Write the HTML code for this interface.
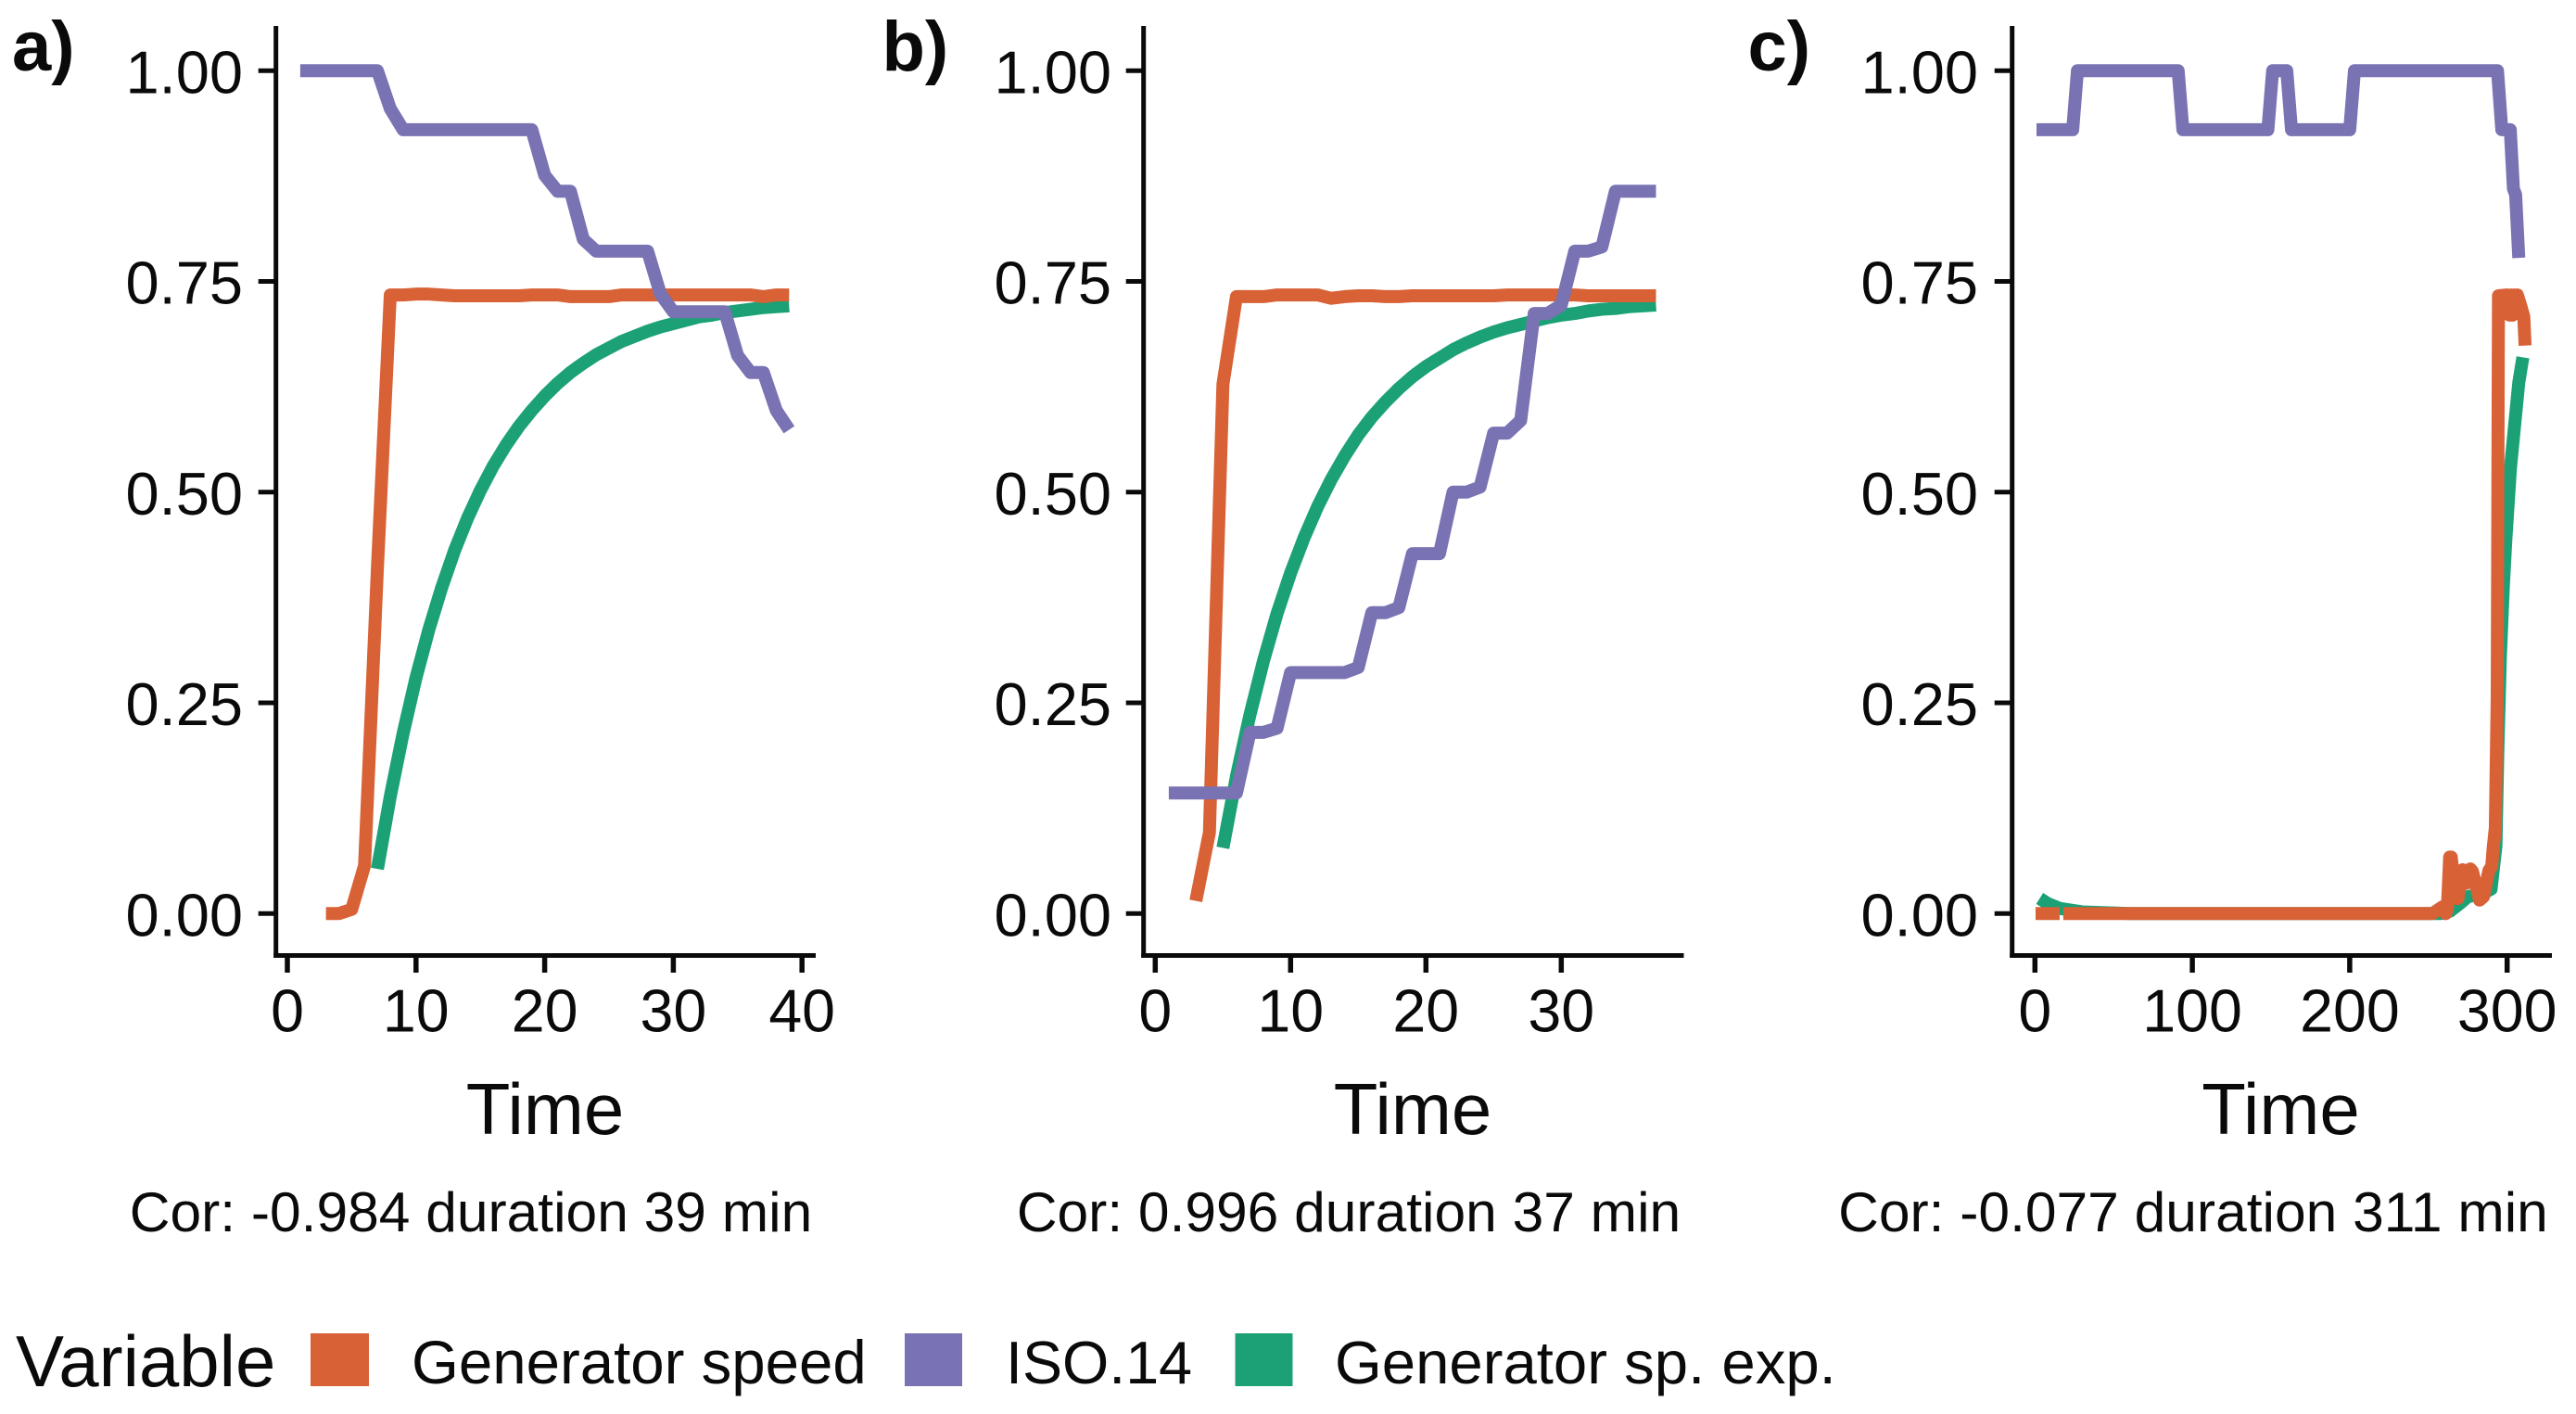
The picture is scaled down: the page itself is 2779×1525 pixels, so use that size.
<!DOCTYPE html>
<html lang="en">
<head>
<meta charset="utf-8">
<title>Generator speed and ISO.14 time series</title>
<style>
html,body{margin:0;padding:0;background:#fff;width:2779px;height:1525px;overflow:hidden}
svg{display:block;font-family:"Liberation Sans",Arial,sans-serif}
text{fill:#0a0a0a}
</style>
</head>
<body>
<svg id="chart" xmlns="http://www.w3.org/2000/svg" width="2779" height="1525" viewBox="0 0 2779 1525">
  <rect width="2779" height="1525" fill="#ffffff"/>
  <g>
    <text x="17" y="1495" font-size="78">Variable</text>
    <rect x="335" y="1438" width="63" height="57" fill="#d86136"/>
    <text x="444" y="1492" font-size="65.4">Generator speed</text>
    <rect x="976" y="1438" width="62" height="57" fill="#7973b3"/>
    <text x="1085" y="1492" font-size="64.6">ISO.14</text>
    <rect x="1332.5" y="1438" width="62" height="57" fill="#1ca177"/>
    <text x="1440" y="1492" font-size="65.3">Generator sp. exp.</text>
  </g>
</svg>
<script>
// Shared tick labels
var yTicks = [0, 0.25, 0.5, 0.75, 1];
var xTicksA = [0, 10, 20, 30, 40];
var xTicksB = [0, 10, 20, 30];
var xTicksC = [0, 100, 200, 300];

// Panel a
var speedTimeA = [3,4,5,6,7,8,9,10,11,12,13,14,15,16,17,18,19,20,21,22,23,24,25,26,27,28,29,30,31,32,33,34,35,36,37,38,39];
var speedValueA = [0,0,0.005,0.057,0.41,0.734,0.734,0.735,0.735,0.734,0.733,0.733,0.733,0.733,0.733,0.733,0.734,0.734,0.734,0.732,0.732,0.732,0.732,0.734,0.734,0.734,0.734,0.734,0.734,0.734,0.734,0.734,0.734,0.734,0.732,0.734,0.734];
var isoTimeA = [1,7,8,9,19,20,21,22,23,24,28,29,30,34,35,36,37,38,39];
var isoValueA = [1,1,0.955,0.93,0.93,0.876,0.857,0.857,0.8,0.786,0.786,0.735,0.714,0.714,0.662,0.642,0.642,0.597,0.574];
var expTimeA = [7,8,9,10,11,12,13,14,15,16,17,18,19,20,21,22,23,24,25,26,27,28,29,30,31,32,33,34,35,36,37,38,39];
var expValueA = [0.053,0.139,0.214,0.28,0.337,0.387,0.431,0.469,0.502,0.531,0.556,0.578,0.597,0.614,0.629,0.642,0.653,0.663,0.671,0.679,0.685,0.691,0.696,0.7,0.704,0.708,0.71,0.713,0.715,0.717,0.719,0.72,0.721];

// Panel b
var speedTimeB = [3,4,5,6,7,8,9,10,11,12,13,14,15,16,17,18,19,20,21,22,23,24,25,26,27,28,29,30,31,32,33,34,35,36,37];
var speedValueB = [0.015,0.096,0.628,0.732,0.732,0.732,0.734,0.734,0.734,0.734,0.73,0.732,0.733,0.733,0.732,0.732,0.733,0.733,0.733,0.733,0.733,0.733,0.733,0.734,0.734,0.734,0.734,0.734,0.734,0.733,0.733,0.733,0.733,0.733,0.733];
var isoTimeB = [1,6,7,8,9,10,14,15,16,17,18,19,21,22,23,24,25,26,27,28,29,30,31,32,33,34,37];
var isoValueB = [0.143,0.143,0.215,0.215,0.22,0.286,0.286,0.292,0.357,0.357,0.363,0.427,0.427,0.5,0.5,0.506,0.57,0.57,0.585,0.712,0.712,0.722,0.786,0.786,0.791,0.857,0.857];
var expTimeB = [5,6,7,8,9,10,11,12,13,14,15,16,17,18,19,20,21,22,23,24,25,26,27,28,29,30,31,32,33,34,35,36,37];
var expValueB = [0.078,0.163,0.236,0.3,0.356,0.404,0.446,0.483,0.515,0.543,0.568,0.589,0.607,0.623,0.637,0.649,0.659,0.669,0.677,0.684,0.69,0.695,0.699,0.703,0.707,0.71,0.712,0.715,0.717,0.718,0.72,0.721,0.722];

// Panel c (null marks a break in the trace)
var speedTimeC = [0.4,15.7,15.8,18,252.5,259,261,262,263.5,264.5,267.5,268.8,271.7,274,276.6,278,282.5,285,288.4,290.2,291.2,292.5,293.1,293.7,294.1,294.5,300,301.5,302.5,303.5,304.5,305.5,306.5,309,310.6,311.4];
var speedValueC = [0,0,null,0,0,0.008,0,0.005,0.067,0.067,0.018,0.018,0.052,0.036,0.053,0.05,0.016,0.02,0.051,0.056,0.079,0.102,0.18,0.259,0.495,0.733,0.734,0.71,0.734,0.71,0.734,0.712,0.734,0.719,0.708,0.674];
var isoTimeC = [1,24,27,91,94,148,151,160,163,200,203,293.9,296.6,302,304,305.4,307.4];
var isoValueC = [0.93,0.93,1,1,0.93,0.93,1,1,0.93,0.93,1,1,0.93,0.93,0.86,0.853,0.778];
var expTimeC = [3,8,16,30,60,258,263.8,270,275,280,285,289.8,292.9,294.1,295.7,297.6,299.2,302.1,305,307.4,310];
var expValueC = [0.018,0.012,0.006,0.002,0,0,0.003,0.012,0.02,0.022,0.024,0.029,0.08,0.192,0.304,0.388,0.444,0.528,0.584,0.63,0.66];

var SVG_NS = 'http://www.w3.org/2000/svg';
var root = document.getElementById('chart');
var COLORS = {speed: '#d86136', iso: '#7973b3', exp: '#1ca177'};
var AXIS = '#0a0a0a';

function make(tag, attrs, parent) {
  var el = document.createElementNS(SVG_NS, tag);
  for (var k in attrs) { el.setAttribute(k, attrs[k]); }
  parent.appendChild(el);
  return el;
}

function drawPanel(p) {
  var g = make('g', {}, root);
  
  

  function xScale(t) { return p.x0 + t * p.xUnit; }
  function yScale(v) { return 985.3 - v * 909; }

  function pathFrom(ts, vs) {
    var d = '', pen = false;
    for (var i = 0; i < ts.length; i++) {
      if (vs[i] === null) { pen = false; continue; }
      d += (pen ? 'L' : 'M') + xScale(ts[i]).toFixed(2) + ' ' + yScale(vs[i]).toFixed(2);
      pen = true;
    }
    return d;
  }

  var tag = make('text', {x: p.tagX, y: 76, 'font-size': 76, 'font-weight': 'bold'}, g);
  
  
  tag.textContent = p.id + ')';

  yTicks.forEach(function (v) {
    var t = make('line', {x1: p.axisX - 19, x2: p.axisX, y1: yScale(v), y2: yScale(v), stroke: AXIS, 'stroke-width': 5}, g);
    
    
    var l = make('text', {x: p.yLabelX, y: yScale(v) + 24, 'font-size': 65, 'text-anchor': 'end'}, g);
    
    
    l.textContent = v.toFixed(2);
  });

  p.xTicks.forEach(function (v) {
    var t = make('line', {x1: xScale(v), x2: xScale(v), y1: 1030, y2: 1049, stroke: AXIS, 'stroke-width': 5.5}, g);
    
    
    var l = make('text', {x: xScale(v), y: 1112.5, 'font-size': 64.5, 'text-anchor': 'middle'}, g);
    
    
    l.textContent = v;
  });

  var ya = make('line', {x1: p.axisX, x2: p.axisX, y1: 28, y2: 1033, stroke: AXIS, 'stroke-width': 5}, g);
  
  
  var xa = make('line', {x1: p.axisX - 2.5, x2: p.axisEnd, y1: 1030.5, y2: 1030.5, stroke: AXIS, 'stroke-width': 5}, g);
  
  

  var common = {fill: 'none', 'stroke-width': 14, 'stroke-linejoin': 'round', 'stroke-linecap': 'butt'};
  var exp = make('path', Object.assign({d: pathFrom(p.expT, p.expV), stroke: COLORS.exp}, common), g);
  
  
  var speed = make('path', Object.assign({d: pathFrom(p.speedT, p.speedV), stroke: COLORS.speed}, common), g);
  
  
  var iso = make('path', Object.assign({d: pathFrom(p.isoT, p.isoV), stroke: COLORS.iso}, common), g);
  
  

  var xt = make('text', {x: p.timeX, y: 1223, 'font-size': 78, 'text-anchor': 'middle'}, g);
  
  
  xt.textContent = 'Time';

  var cap = make('text', {x: p.capX, y: 1328, 'font-size': 60.5, 'text-anchor': 'middle'}, g);
  
  
  cap.textContent = p.caption;
}

drawPanel({id: 'a', tagX: 13, axisX: 297.7, axisEnd: 880, x0: 310, xUnit: 13.88, yLabelX: 262, timeX: 588, capX: 508,
  xTicks: xTicksA, caption: 'Cor: -0.984 duration 39 min',
  speedT: speedTimeA, speedV: speedValueA, isoT: isoTimeA, isoV: isoValueA, expT: expTimeA, expV: expValueA});
drawPanel({id: 'b', tagX: 951.5, axisX: 1233.7, axisEnd: 1816.5, x0: 1246.3, xUnit: 14.6, yLabelX: 1199, timeX: 1524, capX: 1455,
  xTicks: xTicksB, caption: 'Cor: 0.996 duration 37 min',
  speedT: speedTimeB, speedV: speedValueB, isoT: isoTimeB, isoV: isoValueB, expT: expTimeB, expV: expValueB});
drawPanel({id: 'c', tagX: 1885.5, axisX: 2170.7, axisEnd: 2753, x0: 2195.3, xUnit: 1.698, yLabelX: 2134, timeX: 2460.5, capX: 2366,
  xTicks: xTicksC, caption: 'Cor: -0.077 duration 311 min',
  speedT: speedTimeC, speedV: speedValueC, isoT: isoTimeC, isoV: isoValueC, expT: expTimeC, expV: expValueC});
</script>
</body>
</html>
